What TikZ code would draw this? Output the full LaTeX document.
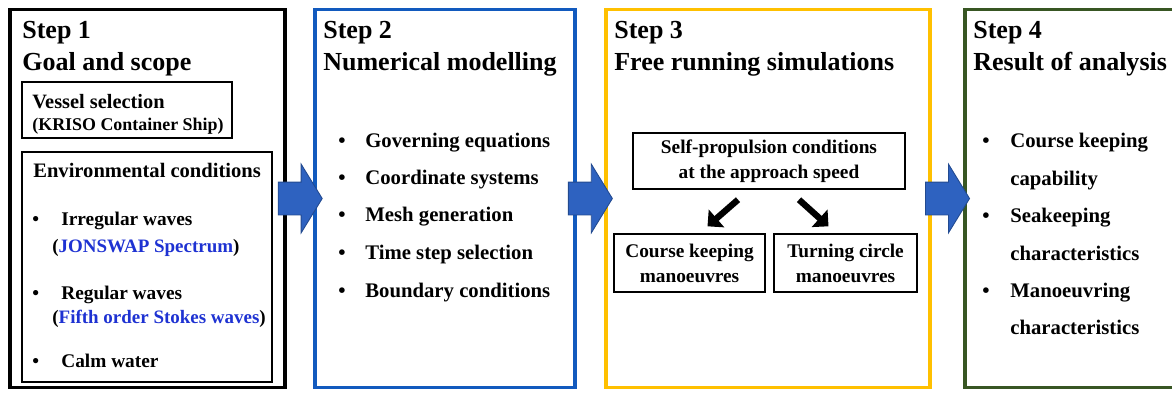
\documentclass[tikz,border=0pt]{standalone}
\usepackage{fontspec}
\setmainfont{Liberation Serif}
\usetikzlibrary{shapes.arrows,arrows.meta,calc}
\definecolor{stepblue}{RGB}{18,90,190}
\definecolor{arrowblue}{RGB}{46,98,192}
\definecolor{stepgold}{RGB}{255,192,0}
\definecolor{stepgreen}{RGB}{56,86,35}
\definecolor{linkblue}{RGB}{30,50,210}
\begin{document}
\begin{tikzpicture}[x=0.02cm,y=-0.02cm]
\tikzstyle{every node}=[font=\bfseries,inner sep=0pt]
\tikzstyle{frame}=[draw,rectangle,line width=2.2pt,minimum height=7.56cm]
\tikzstyle{box}=[draw,rectangle,line width=0.8pt]
\tikzstyle{head}=[anchor=base west,font=\bfseries\fontsize{14.8}{17}\selectfont]
\tikzstyle{item}=[anchor=base west,font=\bfseries\fontsize{11.8}{14}\selectfont]
\tikzstyle{env}=[anchor=base west,font=\bfseries\fontsize{11}{13}\selectfont]
\tikzstyle{sub}=[anchor=base west,font=\bfseries\fontsize{10.8}{12}\selectfont]
\tikzstyle{inbox}=[box,align=center,font=\bfseries\fontsize{11}{14.2}\selectfont]
\tikzstyle{bigarrow}=[single arrow,draw=arrowblue!75!black,line width=0.5pt,fill=arrowblue,
  inner xsep=0pt,inner ysep=0.32cm,minimum height=0.88cm,xshift=-0.1cm,
  single arrow head extend=0.36cm,single arrow tip angle=117]
\tikzstyle{push}=[line width=3.6pt,-{Triangle[length=0.24cm,width=0.46cm]}]
\useasboundingbox (0,0) rectangle (1172,393);
\clip (0,0) rectangle (1172,393);
% the four steps
\node[frame,minimum width=5.5cm](s1) at (147.5,198.5) {};
\node[frame,draw=stepblue,line width=1.8pt,minimum width=5.2cm](s2) at (445,198.5) {};
\node[frame,draw=stepgold,minimum width=6.48cm](s3) at (768,198.5) {};
\node[frame,draw=stepgreen,minimum width=4.5cm](s4) at (1077.5,198.5) {};
\node[bigarrow](a12) at ($(s1.east)!0.5!(s2.west)$) {};
\node[bigarrow](a23) at ($(s2.east)!0.5!(s3.west)$) {};
\node[bigarrow](a34) at ($(s3.east)!0.5!(s4.west)$) {};
% step 1
\node[head](h1a) at (22,38) {Step 1};
\node[head](h1b) at (22,70) {Goal and scope};
\node[box,minimum width=4.2cm,minimum height=1.12cm](vs) at (127,110) {};
\node[box,minimum width=5.0cm,minimum height=4.6cm](ec) at (147,267) {};
\node[env,font=\bfseries\fontsize{11.6}{13}\selectfont](vs1) at (32,108) {Vessel selection};
\node[sub,font=\bfseries\fontsize{10.2}{12}\selectfont](vs2) at (32,130) {(KRISO Container Ship)};
\node[env,font=\bfseries\fontsize{11.7}{13}\selectfont](ec0) at (33,177) {Environmental conditions};
\node[env](b11) at (32,225) {•};
\node[env](ec1) at (61,225) {Irregular waves};
\node[sub](ec2) at (52,252) {(\textcolor{linkblue}{JONSWAP Spectrum})};
\node[env](b12) at (32,299) {•};
\node[env](ec3) at (61,299) {Regular waves};
\node[sub](ec4) at (52,323) {(\textcolor{linkblue}{Fifth order Stokes waves})};
\node[env](b13) at (32,367) {•};
\node[env](ec5) at (61,367) {Calm water};
% step 2
\node[head](h2a) at (323,38) {Step 2};
\node[head](h2b) at (323,70) {Numerical modelling};
\node[item](b21) at (338,147) {•};
\node[item](m1) at (365,147) {Governing equations};
\node[item](b22) at (338,184) {•};
\node[item](m2) at (365,184) {Coordinate systems};
\node[item](b23) at (338,221) {•};
\node[item](m3) at (365,221) {Mesh generation};
\node[item](b24) at (338,259) {•};
\node[item](m4) at (365,259) {Time step selection};
\node[item](b25) at (338,297) {•};
\node[item](m5) at (365,297) {Boundary conditions};
% step 3
\node[head](h3a) at (614,38) {Step 3};
\node[head](h3b) at (614,70) {Free running simulations};
\node[inbox,minimum width=5.44cm,minimum height=1.12cm](sp) at (769,161) {Self-propulsion conditions\\at the approach speed};
\node[inbox,minimum width=3.02cm,minimum height=1.16cm](ck) at (689.5,263) {Course keeping\\manoeuvres};
\node[inbox,minimum width=2.86cm,minimum height=1.16cm](tc) at (845.5,263) {Turning circle\\manoeuvres};
\draw[push] ($(sp.south)+(-31,10)$) -- ($(ck.north)+(18,-7)$);
\draw[push] ($(sp.south)+(30,10)$) -- ($(tc.north)+(-17,-7)$);
% step 4
\node[head](h4a) at (973,38) {Step 4};
\node[head](h4b) at (973,70) {Result of analysis};
\node[item](b41) at (982,147) {•};
\node[item](r1) at (1010,147) {Course keeping};
\node[item](r2) at (1010,185) {capability};
\node[item](b42) at (982,222) {•};
\node[item](r3) at (1010,222) {Seakeeping};
\node[item](r4) at (1010,260) {characteristics};
\node[item](b43) at (982,297) {•};
\node[item](r5) at (1010,297) {Manoeuvring};
\node[item](r6) at (1010,334) {characteristics};
\end{tikzpicture}
\end{document}
